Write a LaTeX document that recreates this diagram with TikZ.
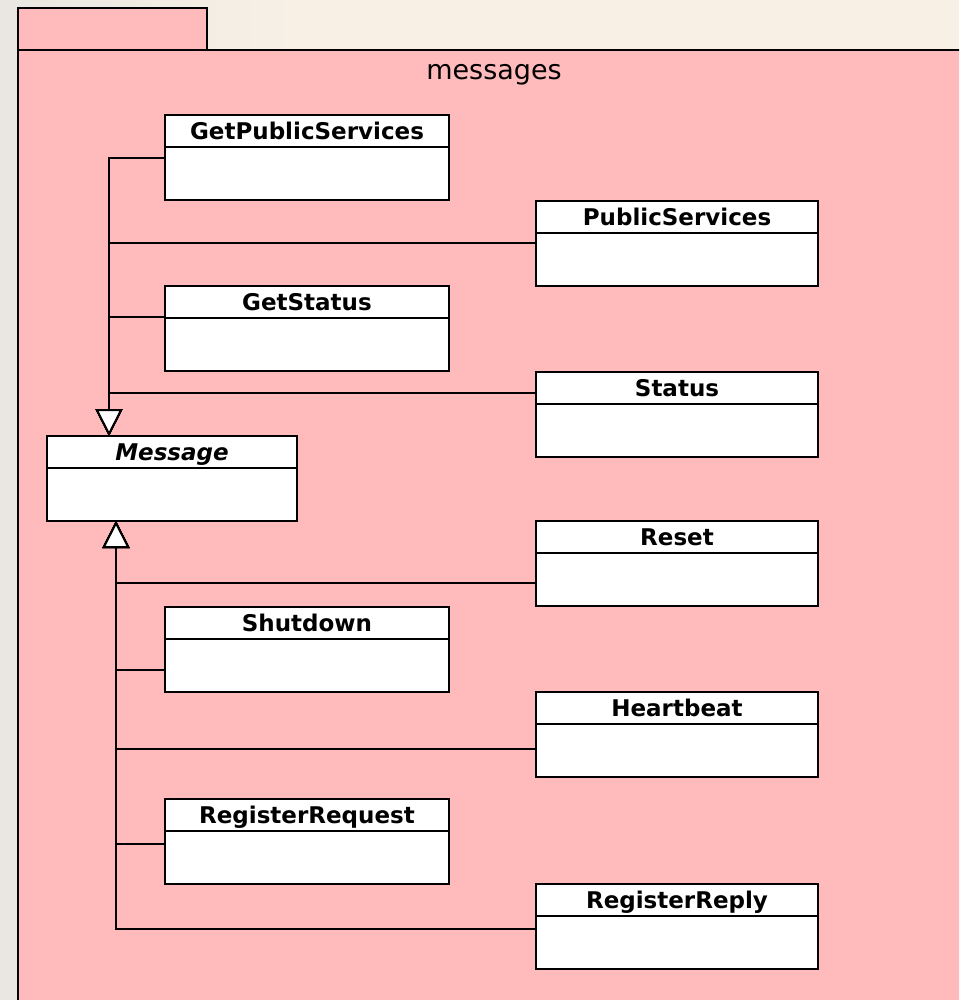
\documentclass[tikz,border=0pt]{standalone}
\usepackage{fontspec}
\setmainfont{DejaVu Sans}
\usetikzlibrary{arrows.meta,calc}

\definecolor{pkgpink}{RGB}{255,186,188}
\definecolor{deskcream}{RGB}{248,240,229}
\definecolor{deskgray}{RGB}{233,231,226}

\tikzset{
  pkg/.style={fill=pkgpink, draw=black, line width=2.2pt},
  cls/.style={draw=black, fill=white, line width=2.2pt, inner sep=0pt, outer sep=0pt,
    anchor=north west, minimum height=85pt},
  narrow/.style={cls, minimum width=284pt},
  wide/.style={cls, minimum width=282pt},
  divider/.style={path picture={\draw[line width=2.2pt]
      ([yshift=-32pt]path picture bounding box.north west) --
      ([yshift=-32pt]path picture bounding box.north east);}},
  clsname/.style={font=\bfseries\fontsize{23}{27}\selectfont, anchor=base, inner sep=0pt},
  gen/.style={draw=black, line width=2pt,
    -{Triangle[length=27pt, width=27pt, fill=white]}},
}

% one class box: name, left, top, style, title text
\newcommand{\umlclass}[5]{%
  \node[#4, divider] (#1) at (#2,#3) {};
  \node[clsname] (#1-name) at ([yshift=-24.5pt]#1.north) {#5};
}

\begin{document}
\begin{tikzpicture}[x=1pt, y=-1pt]
  \useasboundingbox (0,0) rectangle (959,1000);
  \clip (0,0) rectangle (959,1000);

  % desktop behind the package
  \shade[left color=deskgray, right color=deskcream] (0,0) rectangle (300,1000);
  \fill[deskcream] (300,0) rectangle (959,1000);

  % package "messages"
  \draw[pkg] (18,8) rectangle (207,50);
  \draw[pkg] (18,50) rectangle (1010,1060);
  \node[font=\fontsize{27}{32}\selectfont, anchor=base, inner sep=0pt] (pkg-label) at (494,80) {messages};

  % classes
  \umlclass{gps}{165}{115}{narrow}{GetPublicServices}
  \umlclass{ps}{536}{201}{wide}{PublicServices}
  \umlclass{gst}{165}{286}{narrow}{GetStatus}
  \umlclass{st}{536}{372}{wide}{Status}
  \node[cls, minimum width=250pt, divider] (msg) at (47,436) {};
  \node[clsname, font=\bfseries\itshape\fontsize{23}{27}\selectfont] (msg-name)
    at ([yshift=-24.5pt]msg.north) {Message};
  \umlclass{rst}{536}{521}{wide}{Reset}
  \umlclass{shd}{165}{607}{narrow}{Shutdown}
  \umlclass{hb}{536}{692}{wide}{Heartbeat}
  \umlclass{rreq}{165}{799}{narrow}{RegisterRequest}
  \umlclass{rrep}{536}{884}{wide}{RegisterReply}

  % generalisation tips on Message
  \coordinate (up) at (109,436);
  \coordinate (dn) at (116,521);

  % upper hierarchy
  \draw[gen] ([yshift=-43pt]gps.north west) -| (up);
  \draw[gen] ([yshift=-42pt]ps.north west) -| (up);
  \draw[gen] ([yshift=-31pt]gst.north west) -| (up);
  \draw[gen] ([yshift=-21pt]st.north west) -| (up);

  % lower hierarchy
  \draw[gen] ([yshift=-62pt]rst.north west) -| (dn);
  \draw[gen] ([yshift=-63pt]shd.north west) -| (dn);
  \draw[gen] ([yshift=-57pt]hb.north west) -| (dn);
  \draw[gen] ([yshift=-45pt]rreq.north west) -| (dn);
  \draw[gen] ([yshift=-45pt]rrep.north west) -| (dn);
\end{tikzpicture}
\end{document}
